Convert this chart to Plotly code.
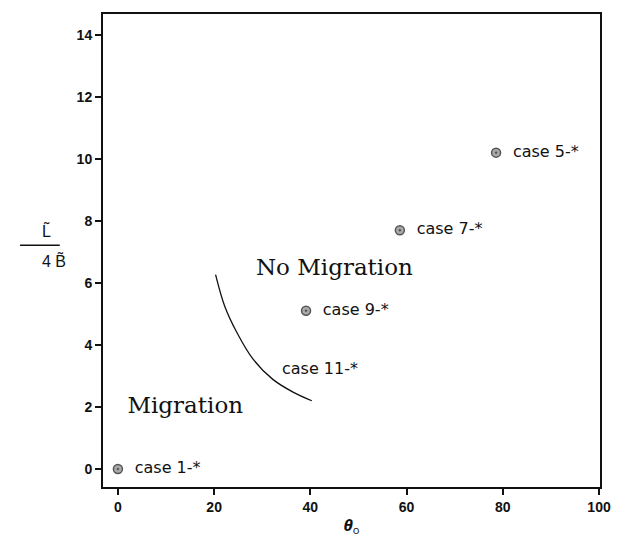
import plotly.graph_objects as go

# data
case_x = [0, 78.6, 58.6, 39.1]
case_y = [0, 10.2, 7.7, 5.1]
case_labels = ["case 1-*", "case 5-*", "case 7-*", "case 9-*"]
case11_x = [34.1]
case11_y = [3.2]
case11_label = ["case 11-*"]
curve_x = [20.3, 22.2, 24.7, 28.1, 32.2, 36.4, 40.3]
curve_y = [6.27, 5.25, 4.41, 3.54, 2.89, 2.48, 2.20]
region_x = [45.0, 14.0]
region_y = [6.45, 2.0]
region_labels = ["No Migration", "Migration"]
x_ticks = [0, 20, 40, 60, 80, 100]
y_ticks = [0, 2, 4, 6, 8, 10, 12, 14]

label_font = dict(family="DejaVu Sans, sans-serif", size=16, color="#111")
serif_font = dict(family="DejaVu Serif, serif", size=23, color="#111")
tick_font = dict(family="Liberation Sans Narrow, Liberation Sans, sans-serif", size=14, color="#111",
                 weight="bold")

fig = go.Figure()
fig.add_trace(go.Scatter(
    x=curve_x, y=curve_y, mode="lines",
    line=dict(color="#111", width=1.3, shape="spline"),
    hoverinfo="skip", showlegend=False))
fig.add_trace(go.Scatter(
    x=case_x, y=case_y, mode="markers+text",
    text=["\u00a0\u00a0" + t for t in case_labels], textposition="middle right",
    textfont=label_font,
    marker=dict(symbol="circle-dot", size=9, color="#aaa",
                line=dict(color="#555", width=1.5)),
    showlegend=False))
fig.add_trace(go.Scatter(
    x=case11_x, y=case11_y, mode="text", text=case11_label,
    textposition="middle right", textfont=label_font, showlegend=False))
fig.add_trace(go.Scatter(
    x=region_x, y=region_y, mode="text", text=region_labels,
    textposition="middle center", textfont=serif_font, showlegend=False))

# y-axis label as a fraction
frac_font = dict(family="Liberation Sans, sans-serif", size=16, color="#111")
fig.add_annotation(xref="paper", yref="paper", x=-0.127, y=0.518, text="L\u0303",
                   showarrow=False, font=frac_font, yanchor="bottom")
fig.add_annotation(xref="paper", yref="paper", x=-0.127, y=0.503, text="4 B\u0303",
                   showarrow=False, font=frac_font, yanchor="top")
fig.add_shape(type="line", xref="paper", yref="paper", x0=-0.167, x1=-0.087, y0=0.511, y1=0.511,
              line=dict(color="#111", width=1.5))

fig.update_layout(
    width=626, height=544,
    margin=dict(l=103, r=26, t=13, b=56),
    paper_bgcolor="white", plot_bgcolor="white",
    xaxis=dict(range=[-3.1, 100.2], tickvals=x_ticks, ticks="outside", ticklen=6,
               tickwidth=1.5, tickcolor="#111", showgrid=False, zeroline=False,
               showline=True, linecolor="#111", linewidth=2, mirror=True,
               tickfont=tick_font,
               title=dict(text="<b><i>θ</i></b><sub>o</sub>", font=dict(size=16, color="#111"), standoff=6)),
    yaxis=dict(range=[-0.58, 14.67], tickvals=y_ticks, ticks="outside", ticklen=6,
               tickwidth=1.5, tickcolor="#111", showgrid=False, zeroline=False,
               showline=True, linecolor="#111", linewidth=2, mirror=True,
               tickfont=tick_font),
)

fig.write_html("out.html")
